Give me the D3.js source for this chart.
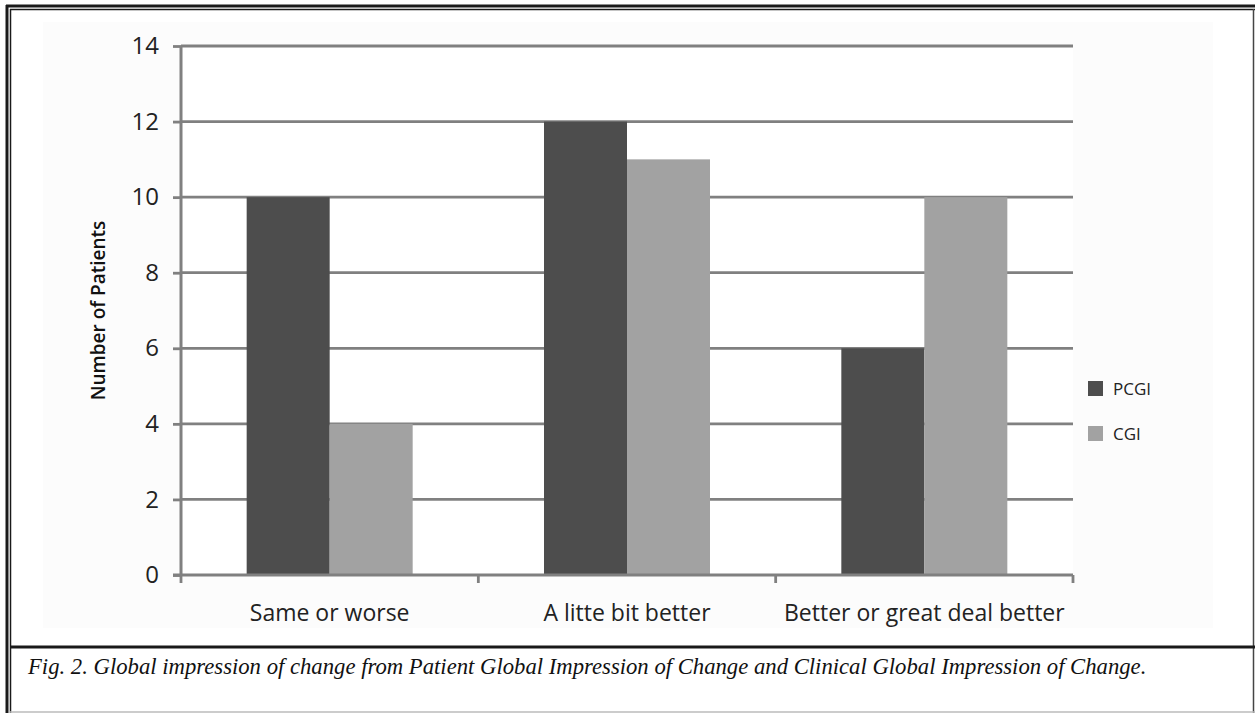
<!DOCTYPE html>
<html>
<head>
<meta charset="utf-8">
<script src="https://cdn.jsdelivr.net/npm/d3@7/dist/d3.min.js"></script>
<style>
  html, body { margin: 0; padding: 0; background: #fff; }
  svg { display: block; }
</style>
</head>
<body>
<svg id="chart" width="1255" height="713"></svg>
<script>
// Responses per category, counted per rating scale
const categories = ["Same or worse", "A litte bit better", "Better or great deal better"];
const seriesNames = ["PCGI", "CGI"];
const pcgiValues = [10, 12, 6];
const cgiValues = [4, 11, 10];
const yTicks = [0, 2, 4, 6, 8, 10, 12, 14];
const seriesColors = ["#4d4d4d", "#a2a2a2"];
const caption = "Fig. 2. Global impression of change from Patient Global Impression of Change and Clinical Global Impression of Change.";

const rows = categories.map((c, i) => ({ category: c, values: [pcgiValues[i], cgiValues[i]] }));

const svg = d3.select("#chart");
const W = 1255, H = 713;

// Figure panel background and faint chart area
svg.append("rect").attr("x", 0).attr("y", 0).attr("width", W).attr("height", H).attr("fill", "#fff");
svg.append("rect").attr("x", 43).attr("y", 22).attr("width", 1170).attr("height", 606).attr("fill", "#fcfcfc");

const plot = { left: 181, right: 1073, top: 46, bottom: 575 };
svg.append("rect").attr("x", plot.left).attr("y", plot.top)
  .attr("width", plot.right - plot.left).attr("height", plot.bottom - plot.top).attr("fill", "#fff");

const y = d3.scaleLinear().domain([0, 14]).range([plot.bottom, plot.top]);
const p = 0.4417;
const x0 = d3.scaleBand().domain(categories).range([plot.left, plot.right])
  .paddingInner(p).paddingOuter(p / 2);
const x1 = d3.scaleBand().domain(seriesNames).range([0, x0.bandwidth()]);

const gridColor = "#808080";
const labelFont = "'Open Sans', 'DejaVu Sans', sans-serif";

// Horizontal gridlines
svg.append("g").selectAll("line").data(yTicks.filter(t => t > 0)).join("line")
  .attr("x1", plot.left).attr("x2", plot.right)
  .attr("y1", d => y(d)).attr("y2", d => y(d))
  .attr("stroke", gridColor).attr("stroke-width", 2.8);

// Bars
const groups = svg.append("g").selectAll("g").data(rows).join("g")
  .attr("transform", d => `translate(${x0(d.category)},0)`);
groups.selectAll("rect").data(d => d.values.map((v, i) => ({ key: seriesNames[i], value: v, i })))
  .join("rect")
  .attr("x", d => x1(d.key))
  .attr("y", d => y(d.value))
  .attr("width", x1.bandwidth())
  .attr("height", d => y(0) - y(d.value))
  .attr("fill", d => seriesColors[d.i]);

// Y axis
const yAxis = svg.append("g").attr("transform", `translate(${plot.left},0)`)
  .call(d3.axisLeft(y).tickValues(yTicks).tickSize(8).tickPadding(14).tickFormat(d3.format("d")));
yAxis.select(".domain").attr("stroke", gridColor).attr("stroke-width", 3)
  .attr("d", `M0,${plot.top}V${plot.bottom}`);
yAxis.selectAll(".tick line").attr("stroke", gridColor).attr("stroke-width", 2.8);
yAxis.selectAll(".tick text").attr("fill", "#222").style("font-family", labelFont)
  .style("font-size", "24px");

// X axis with boundary ticks between categories
const xAxisG = svg.append("g").attr("transform", `translate(0,${plot.bottom})`);
xAxisG.append("line").attr("x1", plot.left - 8).attr("x2", plot.right)
  .attr("y1", 0).attr("y2", 0).attr("stroke", gridColor).attr("stroke-width", 3);
const boundaries = categories.map(c => x0(c) - x0.step() * p / 2).concat([plot.right]);
xAxisG.selectAll("line.b").data(boundaries).join("line").attr("class", "b")
  .attr("x1", d => d).attr("x2", d => d).attr("y1", 0).attr("y2", 8)
  .attr("stroke", gridColor).attr("stroke-width", 2.8);
xAxisG.selectAll("text").data(categories).join("text")
  .attr("x", d => x0(d) + x0.bandwidth() / 2)
  .attr("y", 30).attr("dy", "0.71em")
  .attr("text-anchor", "middle").attr("fill", "#222")
  .style("font-family", labelFont).style("font-size", "23px")
  .text(d => d);

// Y axis title
svg.append("text")
  .attr("transform", `translate(105,${(plot.top + plot.bottom) / 2}) rotate(-90)`)
  .attr("text-anchor", "middle").attr("fill", "#111")
  .style("font-family", labelFont).style("font-size", "19px").style("font-weight", 600)
  .text("Number of Patients");

// Legend
const legend = svg.append("g").attr("transform", "translate(1088,381)");
const li = legend.selectAll("g").data(seriesNames).join("g")
  .attr("transform", (d, i) => `translate(0,${i * 45})`);
li.append("rect").attr("width", 15).attr("height", 15).attr("fill", (d, i) => seriesColors[i]);
li.append("text").attr("x", 25).attr("y", 8).attr("dy", "0.35em").attr("fill", "#222")
  .style("font-family", labelFont).style("font-size", "17px").text(d => d);

// Caption
svg.append("text").attr("x", 28).attr("y", 674)
  .attr("fill", "#111")
  .style("font-family", "'Liberation Serif', 'DejaVu Serif', serif")
  .style("font-style", "italic").style("font-size", "22.7px")
  .text(caption);

// Frame: double rule on top and left, rules on the right and bottom, caption separator
const frame = svg.append("g").attr("fill", "none");
frame.append("line").attr("x1", 6).attr("x2", W).attr("y1", 6).attr("y2", 6).attr("stroke", "#1a1a1a").attr("stroke-width", 3);
frame.append("line").attr("x1", 10).attr("x2", W).attr("y1", 9.5).attr("y2", 9.5).attr("stroke", "#1a1a1a").attr("stroke-width", 1.5);
frame.append("line").attr("x1", 7).attr("x2", 7).attr("y1", 5).attr("y2", H).attr("stroke", "#1a1a1a").attr("stroke-width", 3);
frame.append("line").attr("x1", 10.5).attr("x2", 10.5).attr("y1", 9).attr("y2", H).attr("stroke", "#1a1a1a").attr("stroke-width", 1.5);
frame.append("line").attr("x1", 1253.5).attr("x2", 1253.5).attr("y1", 9).attr("y2", H).attr("stroke", "#444").attr("stroke-width", 1.5);
frame.append("line").attr("x1", 10).attr("x2", W).attr("y1", 647).attr("y2", 647).attr("stroke", "#1a1a1a").attr("stroke-width", 3);
frame.append("line").attr("x1", 10).attr("x2", W).attr("y1", 712).attr("y2", 712).attr("stroke", "#bbb").attr("stroke-width", 1.5);
</script>
</body>
</html>
